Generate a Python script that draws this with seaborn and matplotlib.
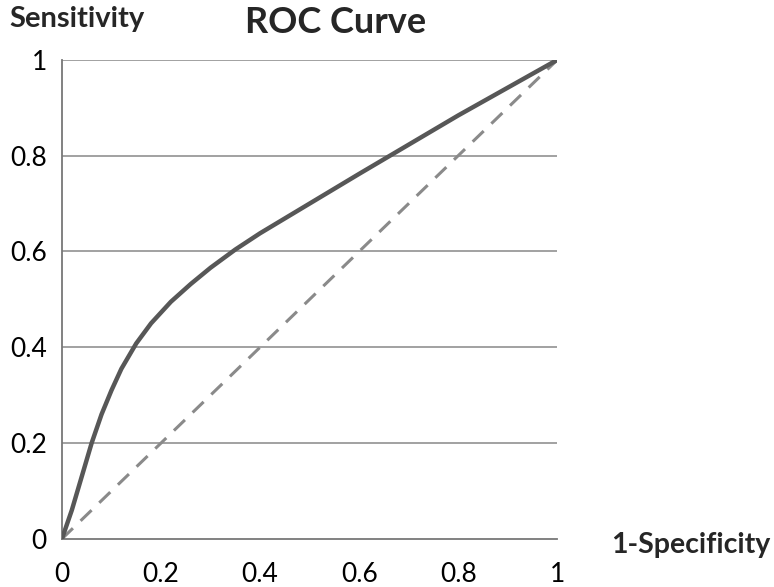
import numpy as np
import pandas as pd
import matplotlib
matplotlib.use("Agg")
import matplotlib.pyplot as plt
import seaborn as sns

# values
fpr = [0, 0.02, 0.04, 0.06, 0.08, 0.10, 0.12, 0.15, 0.18, 0.22, 0.26, 0.30,
       0.35, 0.40, 0.50, 0.60, 0.70, 0.80, 0.90, 1.0]
tpr = [0, 0.06, 0.13, 0.20, 0.26, 0.31, 0.355, 0.408, 0.45, 0.495, 0.532, 0.566,
       0.604, 0.638, 0.70, 0.762, 0.823, 0.884, 0.942, 1.0]
diag_x = [0, 1]
diag_y = [0, 1]
ticks = [0, 0.2, 0.4, 0.6, 0.8, 1]
tick_labels = ["0", "0.2", "0.4", "0.6", "0.8", "1"]

sns.set_style("white")
plt.rcParams['font.family'] = ['Lato', 'DejaVu Sans']

fig = plt.figure(figsize=(7.74, 5.87), dpi=100)
ax = fig.add_axes([0.080, 0.082, 0.640, 0.816])

roc = pd.DataFrame({"fpr": fpr, "tpr": tpr})
diag = pd.DataFrame({"x": diag_x, "y": diag_y})

for t in ticks[1:]:
    ax.axhline(t, color="#9a9a9a", lw=1.3, zorder=1)

sns.lineplot(data=diag, x="x", y="y", ax=ax, color="#8a8a8a", lw=2.2,
             dashes=False, linestyle=(0, (5, 3.5)), zorder=2)
sns.lineplot(data=roc, x="fpr", y="tpr", ax=ax, color="#575757", lw=3.2,
             sort=False, zorder=3)

ax.set_xlim(0, 1)
ax.set_ylim(0, 1)
ax.set_xticks(ticks)
ax.set_xticklabels(tick_labels)
ax.set_yticks(ticks)
ax.set_yticklabels(tick_labels)
ax.set_xlabel("")
ax.set_ylabel("")
ax.tick_params(axis="both", direction="out", length=6, width=1.3,
               color="#777777", labelsize=19, labelcolor="black", pad=5)
ax.tick_params(axis="x", pad=11)
for side in ["top", "right"]:
    ax.spines[side].set_visible(False)
for side in ["left", "bottom"]:
    ax.spines[side].set_color("#777777")
    ax.spines[side].set_linewidth(1.3)

fig.text(0.433, 0.962, "ROC Curve", ha="center", va="center",
         fontsize=26, fontweight="bold")
fig.text(0.012, 0.968, "Sensitivity", ha="left", va="center",
         fontsize=21, fontweight="bold")
fig.text(0.995, 0.072, "1-Specificity", ha="right", va="center",
         fontsize=20.5, fontweight="bold")

fig.savefig("out.png", dpi=100)
